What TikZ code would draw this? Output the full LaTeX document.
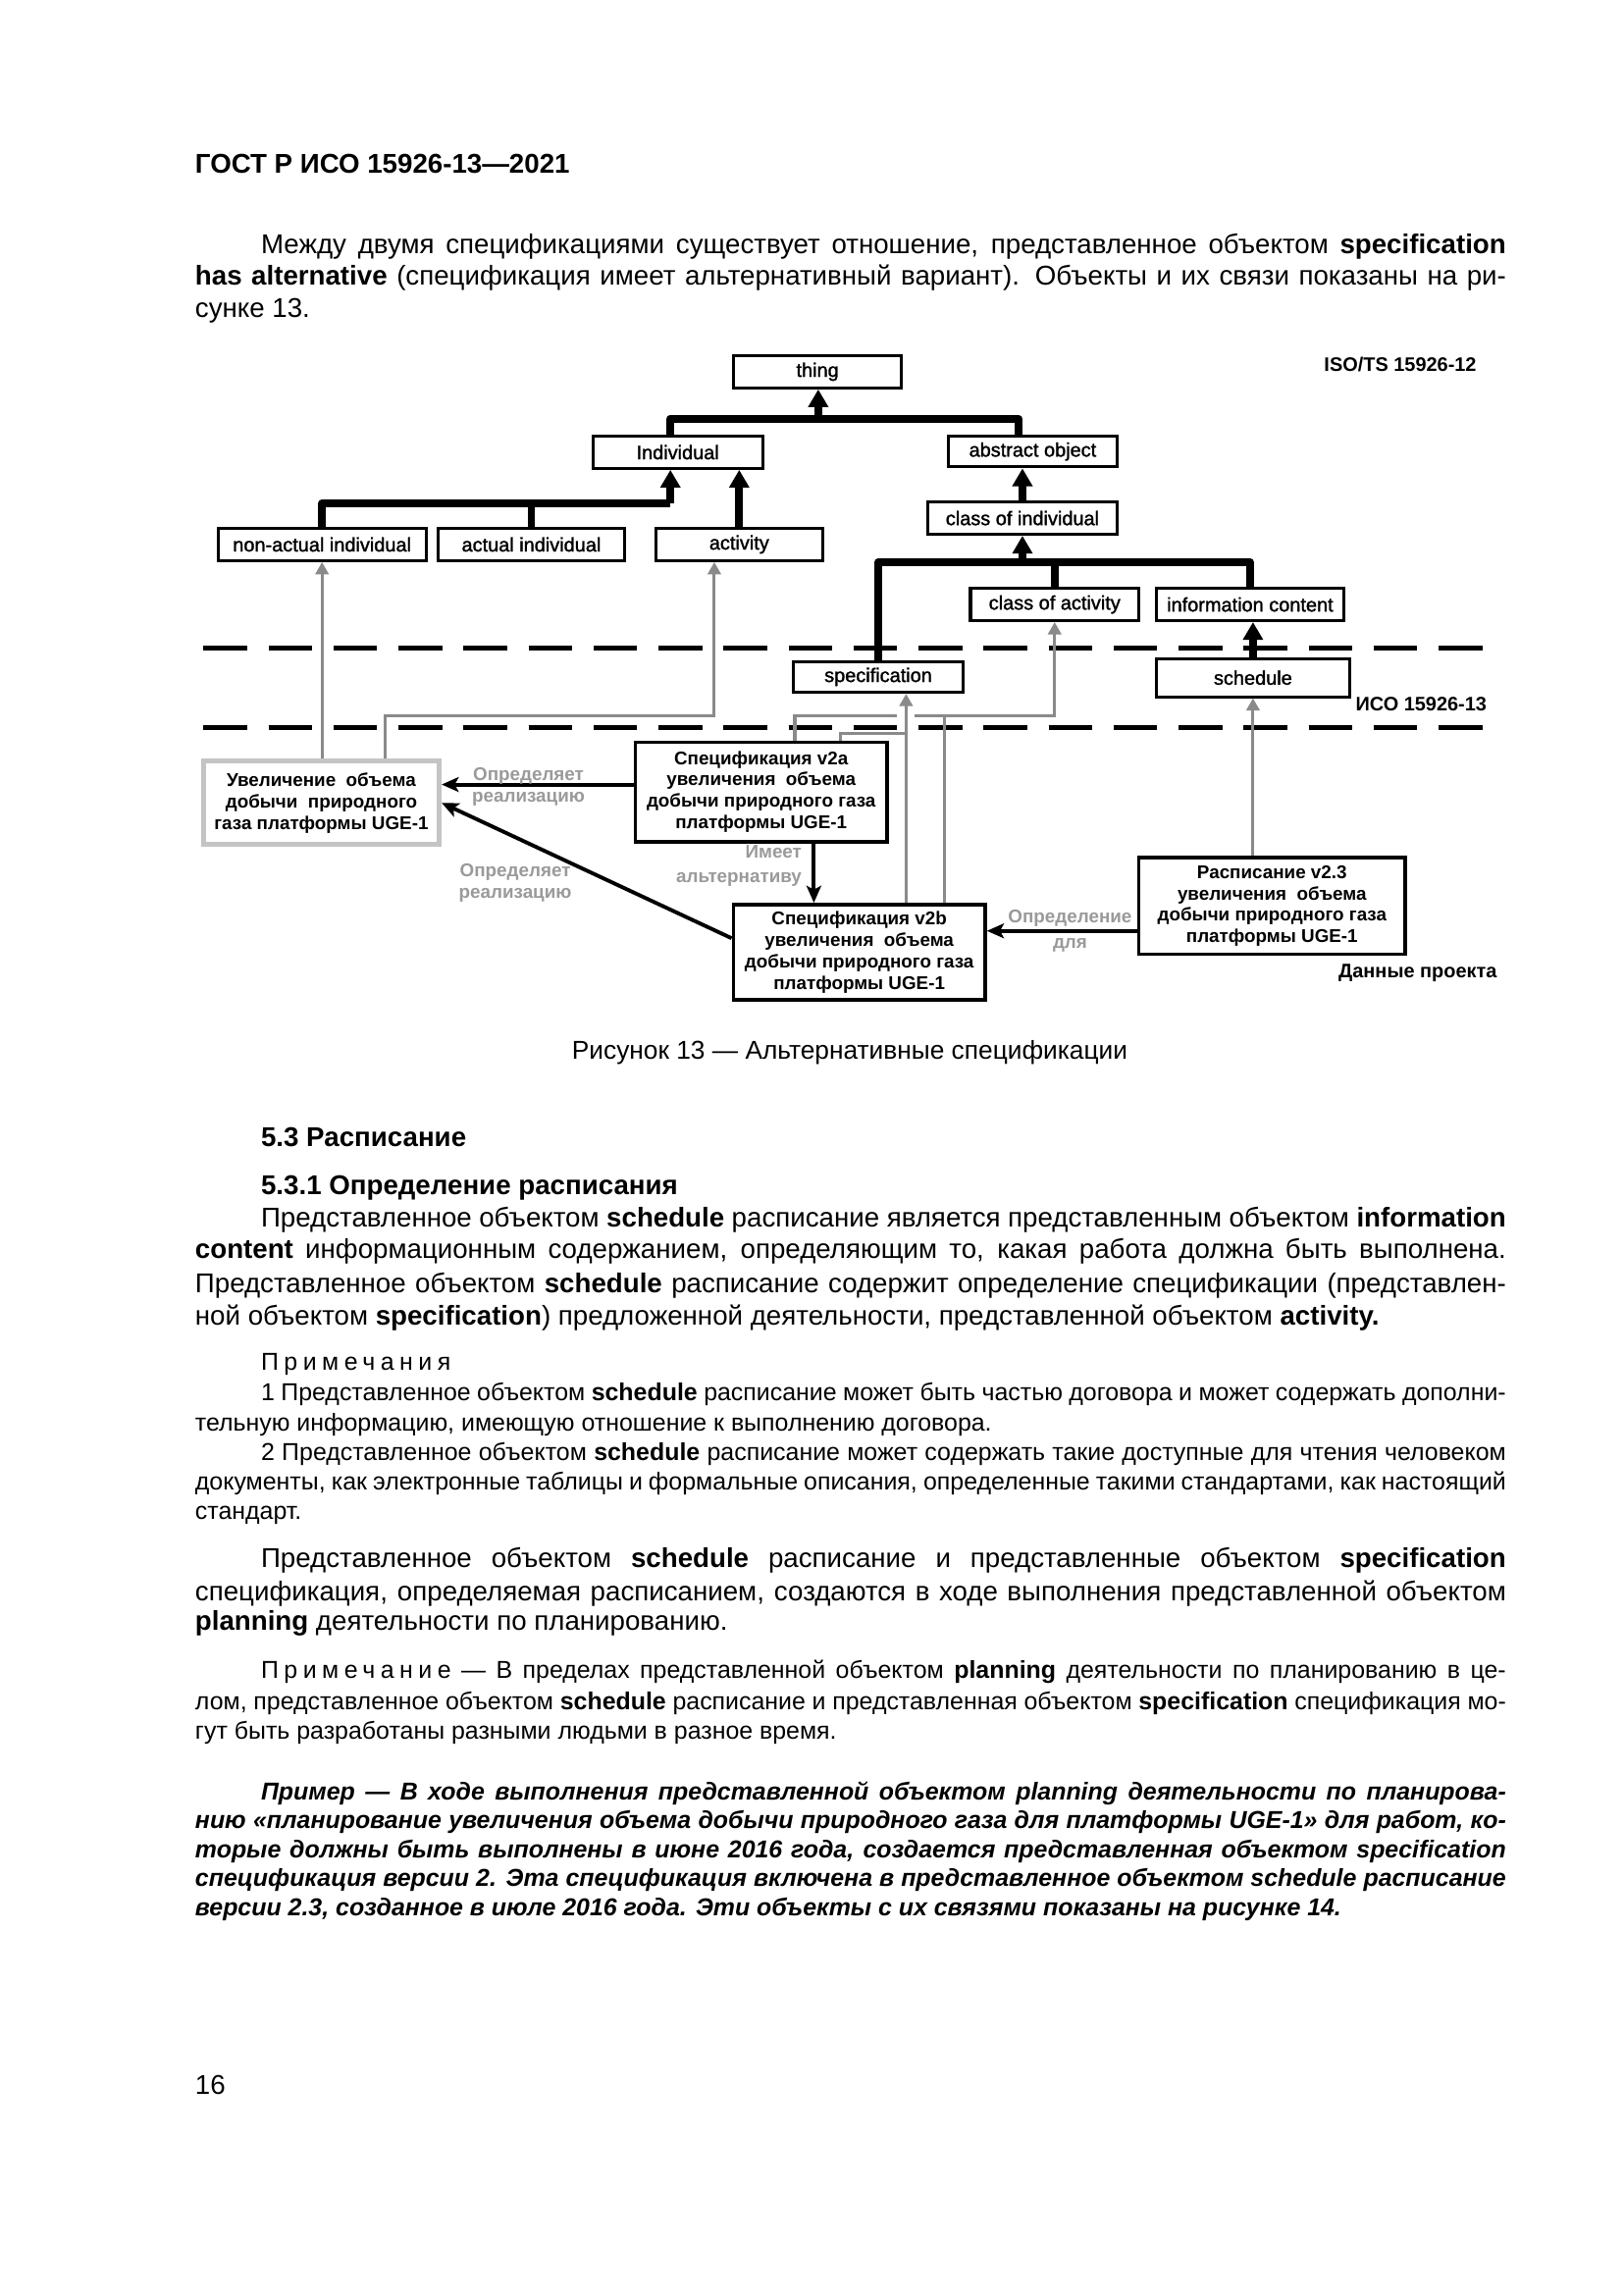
\documentclass[tikz,border=0pt]{standalone}
\usepackage{fontspec}
\setmainfont{Liberation Sans}
\newfontfamily\heavyf[FakeBold=1.4]{Liberation Sans}
\usetikzlibrary{arrows.meta}
\newlength\ulen \setlength\ulen{0.18936mm}
\definecolor{lg}{HTML}{8A8A8A}
\definecolor{lt}{HTML}{9A9A9A}
\definecolor{lb}{HTML}{C4C4C4}
\newcommand\jline[5]{\node[anchor=base west,inner sep=0pt] (#1) at (#2,#3) {\makebox[#4\ulen][s]{#5}};}
\newcommand\pline[4]{\node[anchor=base west,inner sep=0pt] (#1) at (#2,#3) {#4};}
\newcommand\bodyf{\fontsize{10}{12}\selectfont}
\newcommand\notef{\fontsize{9}{11}\selectfont}
\newcommand\spaced[1]{{\addfontfeatures{LetterSpace=22}#1}}
\tikzset{
 ebox/.style={draw, line width=1.1pt, minimum height=22\ulen, inner sep=0pt, font=\heavyf\fontsize{7.2}{8}\selectfont},
 rbox/.style={draw, line width=1.3pt, inner sep=0pt, align=center, font=\bfseries\fontsize{6.8}{7.9}\selectfont},
 inhl/.style={line width=2.8pt, line join=round},
 inha/.style={inhl, -{Triangle[length=2.3mm,width=2.5mm]}},
 grl/.style={draw=lg, line width=1.1pt},
 gra/.style={grl, -{Triangle[length=1.6mm,width=1.7mm]}},
 blk/.style={line width=1.4pt, -{Stealth[length=2.2mm,width=1.9mm,inset=0.5mm]}},
 lbl/.style={text=lt, font=\bfseries\fontsize{6.8}{8}\selectfont, align=center, inner sep=0pt},
 dashln/.style={line width=1.7pt, dash pattern=on 5.66mm off 2.75mm},
 tag/.style={font=\bfseries\fontsize{7.2}{8}\selectfont, inner sep=0pt}
}
\begin{document}
\begin{tikzpicture}[x=0.18936mm, y=-0.18936mm]
\fill[white] (0,0) rectangle (1109,1568);
\useasboundingbox (0,0) rectangle (1109,1568);

% ---------------- text above ----------------
\begin{scope}[font=\bodyf]
\pline{hdr}{133}{118.5}{\textbf{ГОСТ Р ИСО 15926-13—2021}}
\jline{p1a}{178}{173.2}{850.5}{Между двумя спецификациями существует отношение, представленное объектом \textbf{specification}}
\jline{p1b}{133}{194.5}{895.5}{\textbf{has alternative} (спецификация имеет альтернативный вариант). Объекты и их связи показаны на ри-}
\pline{p1c}{133}{216.7}{сунке 13.}
\end{scope}

% ---------------- diagram ----------------
\draw[dashln] (139,443) -- (1016,443);
\draw[dashln] (139,497) -- (1016,497);

\node[tag, anchor=east] (iso12) at (1009,249) {ISO/TS 15926-12};
\node[tag, anchor=east] (iso13) at (1016,481) {ИСО 15926-13};
\node[tag, anchor=east] (proj) at (1023,665) {Данные проекта};

\node[ebox, minimum width=115\ulen] (thing) at (558.5,254) {thing};
\node[ebox, minimum width=116\ulen] (indiv) at (463,309) {Individual};
\node[ebox, minimum width=115\ulen, minimum height=21\ulen] (abso) at (705.5,308.5) {abstract object};
\node[ebox, minimum width=142\ulen] (nai) at (220,372) {non-actual individual};
\node[ebox, minimum width=128\ulen] (ai) at (363,372) {actual individual};
\node[ebox, minimum width=114\ulen] (act) at (505,372) {activity};
\node[ebox, minimum width=129\ulen] (coi) at (698.5,354) {class of individual};
\node[ebox, minimum width=115\ulen] (coa) at (720.5,413) {class of activity};
\node[ebox, minimum width=128\ulen] (ic) at (854,413) {information content};
\node[ebox, minimum width=116\ulen, minimum height=21\ulen] (spec) at (600,462.5) {specification};
\node[ebox, minimum width=132\ulen, minimum height=26\ulen] (sched) at (856,463) {schedule};

\node[rbox, draw=lb, line width=1.8pt, minimum width=161\ulen, minimum height=57\ulen] (uv) at (219.5,548.5) {Увеличение\ \ объема\\добычи\ \ природного\\газа платформы UGE-1};
\node[rbox, minimum width=172\ulen, minimum height=68\ulen] (v2a) at (520,541) {Спецификация v2a\\увеличения\ \ объема\\добычи природного газа\\платформы UGE-1};
\node[rbox, minimum width=172\ulen, minimum height=65\ulen] (v2b) at (587,650.5) {Спецификация v2b\\увеличения\ \ объема\\добычи природного газа\\платформы UGE-1};
\node[rbox, minimum width=182\ulen, minimum height=66\ulen] (rasp) at (869,619) {Расписание v2.3\\увеличения\ \ объема\\добычи природного газа\\платформы UGE-1};

\coordinate (jt) at (559,286);
\coordinate (xi) at (458,0);
\coordinate (xa) at (696,0);
\coordinate (ji) at (458,344);
\coordinate (jc) at (698.5,384);
\coordinate (ga) at (263,489);
\coordinate (gb) at (488,489);
\coordinate (gc) at (543,489);
\coordinate (gap1) at (613,489);
\coordinate (gap2) at (625,489);
\coordinate (ge) at (645,489);
\coordinate (gd) at (574,501);
\coordinate (gs) at (619,501);
\coordinate (yb) at (0,536);
\coordinate (yc) at (0,641);
\coordinate (yd) at (0,636);
\coordinate (xv) at (556,0);

% inheritance (thick)
\draw[inhl] (indiv.north -| xi) |- (jt) -| (abso.north -| xa);
\draw[inha] (jt) -- (thing.south -| jt);
\draw[inhl] (nai.north) |- (ji);
\draw[inhl] (ai.north) -- (ai.north |- ji);
\draw[inha] (ji) -- (indiv.south -| ji);
\draw[inha] (act.north) -- (indiv.south -| act.north);
\draw[inha] (coi.north) -- (abso.south -| coi.north);
\draw[inhl] (spec.north) |- (jc) -| (ic.north);
\draw[inhl] (coa.north) -- (coa.north |- jc);
\draw[inha] (jc) -- (coi.south);
\draw[inha] (sched.north) -- (ic.south -| sched.north);

% classification (gray)
\draw[gra] (uv.north -| nai.south) -- (nai.south);
\draw[gra] (uv.north -| ga) |- (gb) -- (act.south -| gb);
\draw[grl] (v2a.north -| gc) |- (gap1);
\draw[gra] (gap2) -| (coa.south);
\draw[grl] (v2a.north -| gd) |- (gs);
\draw[gra] (v2b.north -| gs) -- (spec.south -| gs);
\draw[grl] (v2b.north -| ge) -- (ge);
\draw[gra] (rasp.north -| sched.south) -- (sched.south);

% relations (black)
\draw[blk] (v2a.west |- yb) -- (uv.east |- yb);
\draw[blk] (v2a.south -| xv) -- (v2b.north -| xv);
\draw[blk] (v2b.west |- yc) -- (uv.east);
\draw[blk] (rasp.west |- yd) -- (v2b.east |- yd);

\node[lbl] (l1) at (361,537.5) {Определяет\\реализацию};
\node[lbl] (l2) at (352,603.5) {Определяет\\реализацию};
\node[lbl, align=right, anchor=east, font=\bfseries\fontsize{6.8}{9}\selectfont] (l3) at (548,591.5) {Имеет\\альтернативу};
\node[lbl, font=\bfseries\fontsize{6.8}{9.5}\selectfont] (l4) at (731,636) {Определение\\для};

% ---------------- text below ----------------
\node[anchor=base, inner sep=0pt, font=\fontsize{9.5}{11}\selectfont] (cap) at (580.5,723.6) {Рисунок 13 — Альтернативные спецификации};

\begin{scope}[font=\bodyf]
\pline{s53}{178}{783}{\textbf{5.3 Расписание}}
\pline{s531}{178}{816}{\textbf{5.3.1 Определение расписания}}
\jline{p2a}{178}{838}{850.5}{Представленное объектом \textbf{schedule} расписание является представленным объектом \textbf{information}}
\jline{p2b}{133}{860}{895.5}{\textbf{content} информационным содержанием, определяющим то, какая работа должна быть выполнена.}
\jline{p2c}{133}{883}{895.5}{Представленное объектом \textbf{schedule} расписание содержит определение спецификации (представлен-}
\pline{p2d}{133}{905}{ной объектом \textbf{specification}) предложенной деятельности, представленной объектом \textbf{activity.}}
\end{scope}

\begin{scope}[font=\notef]
\pline{n0}{178}{936}{\spaced{Примечания}}
\jline{n1a}{178}{957}{850.5}{1 Представленное объектом \textbf{schedule} расписание может быть частью договора и может содержать дополни-}
\pline{n1b}{133}{978}{тельную информацию, имеющую отношение к выполнению договора.}
\jline{n2a}{178}{998}{850.5}{2 Представленное объектом \textbf{schedule} расписание может содержать такие доступные для чтения человеком}
\jline{n2b}{133}{1018}{895.5}{документы, как электронные таблицы и формальные описания, определенные такими стандартами, как настоящий}
\pline{n2c}{133}{1038}{стандарт.}
\end{scope}

\begin{scope}[font=\bodyf]
\jline{p3a}{178}{1071}{850.5}{Представленное объектом \textbf{schedule} расписание и представленные объектом \textbf{specification}}
\jline{p3b}{133}{1094}{895.5}{спецификация, определяемая расписанием, создаются в ходе выполнения представленной объектом}
\pline{p3c}{133}{1114}{\textbf{planning} деятельности по планированию.}
\end{scope}

\begin{scope}[font=\notef]
\jline{n3a}{178}{1146.5}{850.5}{\spaced{Примечание} — В пределах представленной объектом \textbf{planning} деятельности по планированию в це-}
\jline{n3b}{133}{1168}{895.5}{лом, представленное объектом \textbf{schedule} расписание и представленная объектом \textbf{specification} спецификация мо-}
\pline{n3c}{133}{1188}{гут быть разработаны разными людьми в разное время.}
\end{scope}

\begin{scope}[font=\notef\bfseries\itshape]
\jline{e1}{178}{1230}{850.5}{Пример — В ходе выполнения представленной объектом planning деятельности по планирова-}
\jline{e2}{133}{1249}{895.5}{нию «планирование увеличения объема добычи природного газа для платформы UGE-1» для работ, ко-}
\jline{e3}{133}{1269}{895.5}{торые должны быть выполнены в июне 2016 года, создается представленная объектом specification}
\jline{e4}{133}{1289}{895.5}{спецификация версии 2. Эта спецификация включена в представленное объектом schedule расписание}
\pline{e5}{133}{1309}{версии 2.3, созданное в июле 2016 года. Эти объекты с их связями показаны на рисунке 14.}
\end{scope}

\begin{scope}[font=\bodyf]
\pline{pg}{133}{1431}{16}
\end{scope}
\end{tikzpicture}
\end{document}
